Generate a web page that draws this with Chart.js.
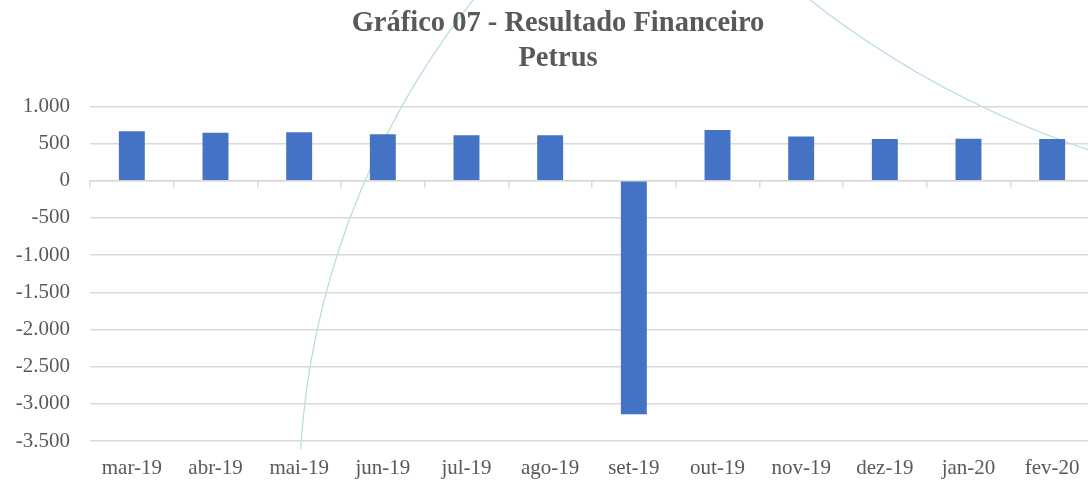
<!DOCTYPE html>
<html>
<head>
<meta charset="utf-8">
<script src="https://cdn.jsdelivr.net/npm/chart.js@4/dist/chart.umd.min.js"></script>
<style>
    html, body { margin: 0; padding: 0; background: #ffffff; overflow: hidden; }
    #wrap { width: 1116px; height: 481px; position: relative; }
</style>
</head>
<body>
<div id="wrap"><canvas id="ChartResultado"></canvas></div>
<script>
// Data
const months = ['mar-19', 'abr-19', 'mai-19', 'jun-19', 'jul-19', 'ago-19', 'set-19', 'out-19', 'nov-19', 'dez-19', 'jan-20', 'fev-20'];
const resultado = [667, 644, 653, 627, 613, 613, -3141, 681, 595, 560, 566, 560];
const titleLines = ['Gráfico 07 - Resultado Financeiro', 'Petrus'];
const yMin = -3500;
const yMax = 1000;
const yStep = 500;

const textGray = '#595959';
const gridGray = '#d9d9d9';
const serif = "Garamond, 'Liberation Serif', serif";

// thousands with a dot, like the original
function formatNumber(v) {
    const s = Math.abs(v).toString().replace(/\B(?=(\d{3})+(?!\d))/g, '.');
    return (v < 0 ? '-' : '') + s;
}

// faint watermark curves behind the chart
const watermark = {
    id: 'watermark',
    beforeDraw(chart) {
        const c = chart.ctx;
        c.save();
        c.fillStyle = '#ffffff';
        c.fillRect(0, 0, chart.width, chart.height);
        c.strokeStyle = '#b5dcdc';
        c.lineWidth = 1.2;
        c.beginPath();
        c.arc(1104, 500, 805, Math.PI * 1.02, Math.PI * 1.4);
        c.stroke();
        c.beginPath();
        c.arc(1384, -732, 930, Math.PI * 0.5, Math.PI * 0.75);
        c.stroke();
        c.restore();
    }
};

const ctx = document.getElementById('ChartResultado');
new Chart(ctx, {
    type: 'bar',
    data: {
        labels: months,
        datasets: [{
            data: resultado,
            backgroundColor: '#4472C4',
            borderWidth: 0,
            categoryPercentage: 1,
            barPercentage: 0.31,
            xAxisID: 'x',
            yAxisID: 'y'
        }]
    },
    options: {
        responsive: true,
        maintainAspectRatio: false,
        animation: false,
        layout: { padding: { left: 2, right: 2, top: 0, bottom: 2 } },
        plugins: {
            legend: { display: false },
            tooltip: { enabled: false },
            title: {
                display: true,
                text: titleLines,
                color: textGray,
                font: { family: serif, size: 28.5, weight: 'bold', lineHeight: 1.2 },
                padding: { top: 7, bottom: 31 }
            }
        },
        scales: {
            x: {
                type: 'category',
                position: 'bottom',
                afterFit(scale) { scale.height = 38; },
                grid: { display: false, drawTicks: false },
                border: { display: false },
                ticks: {
                    color: textGray,
                    font: { family: serif, size: 21 },
                    padding: 15,
                    maxRotation: 0,
                    autoSkip: false
                }
            },
            xZero: {
                type: 'category',
                labels: months,
                position: { y: 0 },
                offset: true,
                afterFit(scale) { scale.height = 0; },
                grid: {
                    offset: true,
                    drawOnChartArea: false,
                    drawTicks: true,
                    tickLength: 6,
                    color: gridGray,
                    lineWidth: 1.5
                },
                border: { display: true, color: gridGray, width: 1.5 },
                ticks: { display: false }
            },
            y: {
                min: yMin,
                max: yMax,
                afterFit(scale) { scale.width = 88; },
                grid: { color: gridGray, lineWidth: 1.5, drawTicks: false },
                border: { display: false },
                ticks: {
                    stepSize: yStep,
                    color: textGray,
                    font: { family: serif, size: 21 },
                    padding: 20,
                    callback: (v) => formatNumber(v)
                }
            },
            // empty strip on the right so the title sits where it does in the original
            ySpacer: {
                position: 'right',
                min: yMin,
                max: yMax,
                afterFit(scale) { scale.width = 20; },
                grid: { drawOnChartArea: false, drawTicks: false, display: false },
                border: { display: false },
                ticks: { display: false }
            }
        }
    },
    plugins: [watermark]
});
</script>
</body>
</html>
